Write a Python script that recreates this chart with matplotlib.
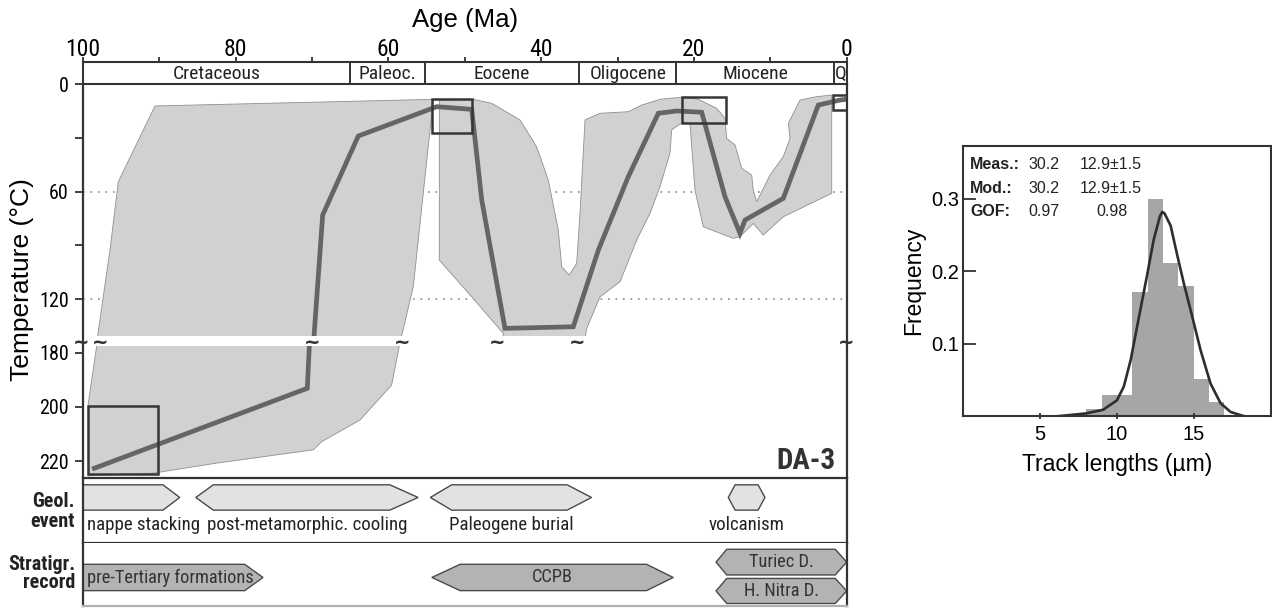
import matplotlib.pyplot as plt
import matplotlib.transforms as mtransforms
from matplotlib import font_manager
from matplotlib.patches import Polygon, Rectangle

REGULAR = ['Liberation Sans', 'DejaVu Sans']
plt.rcParams['font.family'] = REGULAR


def pick_narrow():
    # the figure uses a narrow sans for ticks and labels; take what is installed
    names = {f.name for f in font_manager.fontManager.ttflist}
    for cand in ['Liberation Sans Narrow', 'Arial Narrow', 'Roboto Condensed',
                 'DejaVu Sans Condensed', 'Open Sans Condensed', 'Noto Sans Condensed']:
        if cand in names:
            return cand, 'normal'
    for f in font_manager.fontManager.ttflist:
        if isinstance(f.stretch, str) and 'condensed' in f.stretch and 'Sans' in f.name \
                and 'Mono' not in f.name:
            return f.name, f.stretch
    return None, 'normal'


narrow_name, narrow_stretch = pick_narrow()
NARROW = [narrow_name] + REGULAR if narrow_name else REGULAR
SHRINK = 1.0 if narrow_name else 0.84


def ns(size):
    return size * SHRINK


# ---- data ----
period_names = ['Cretaceous', 'Paleoc.', 'Eocene', 'Oligocene', 'Miocene', 'Q']
period_bounds = [100, 65.0, 55.2, 35.0, 22.3, 1.6, 0]

# envelope 1 (Cretaceous - early Eocene), age (Ma) / temperature (C)
envA_age = [90.54, 54.11, 56.73, 58.25, 58.56, 59.56, 63.70, 68.72, 69.82, 82.46,
            90.76, 99.27, 99.27, 98.17, 98.04, 96.43, 95.34]
envA_temp = [12.1, 8.4, 113.1, 140.4, 177.5, 191.9, 204.8, 212.8, 215.8, 220.7,
             224.4, 225.4, 198.6, 177.5, 140.4, 92.6, 54.4]

# envelope 2 (Eocene - Miocene)
envB_age = [53.32, 48.87, 46.47, 42.76, 40.58, 39.06, 38.18, 37.75, 37.30, 36.31,
            35.34, 34.91, 34.25, 32.29, 28.59, 26.83, 24.44, 23.13, 21.16, 19.42,
            17.02, 15.93, 15.71, 14.62, 13.74, 12.43, 12.23, 11.78, 10.04, 8.30,
            7.42, 7.64, 6.11, 3.93, 1.96, 1.96, 8.30, 10.92, 12.23, 13.97,
            14.84, 16.58, 18.77, 19.86, 20.51, 21.39, 22.91, 23.13, 24.44, 25.75,
            27.49, 29.67, 32.29, 34.03, 34.25, 44.95, 44.95, 49.08, 53.32]
envB_temp = [8.8, 8.4, 10.6, 19.9, 34.9, 53.5, 72.1, 81.4, 101.9, 106.5,
             100.0, 72.1, 19.9, 16.2, 15.3, 11.6, 8.4, 7.8, 7.1, 8.4,
             13.4, 19.0, 30.2, 33.9, 46.9, 50.7, 59.1, 65.6, 50.7, 40.4,
             30.2, 21.8, 8.8, 6.9, 6.0, 60.9, 74.0, 84.2, 77.7, 85.1,
             86.0, 83.2, 79.6, 59.1, 21.8, 20.9, 25.5, 38.5, 57.2, 72.1,
             87.0, 110.3, 118.7, 136.3, 142.0, 142.0, 139.1, 118.7, 98.2]

# best-fit thermal path
path_age = [98.48, 70.60, 68.59, 63.93, 53.66, 49.08, 47.77, 44.73, 35.79, 32.51,
            28.59, 24.66, 22.25, 18.98, 15.93, 13.97, 13.31, 8.30, 3.72, 0.88, 0.3]
path_temp = [222.6, 193.1, 73.0, 28.9, 12.5, 14.0, 64.6, 136.3, 135.4, 92.6,
             51.6, 16.2, 14.9, 15.6, 62.8, 83.2, 75.8, 63.7, 11.6, 8.8, 8.5]

# constraint boxes: old age, young age, top temp, bottom temp
box_old = [99.3, 54.24, 21.6, 1.83]
box_young = [90.1, 49.08, 15.8, 0.0]
box_top = [199.5, 8.4, 7.3, 6.0]
box_bottom = [224.8, 27.4, 21.4, 14.4]

break_marks = [100.2, 97.7, 70.0, 58.2, 45.7, 35.3, 0.05]

event_labels = ['nappe stacking', 'post-metamorphic. cooling', 'Paleogene burial', 'volcanism']
event_tip_l = [100, 85.2, 54.5, 15.5]
event_sh_l = [100, 82.9, 51.7, 14.6]
event_sh_r = [89.5, 59.8, 36.6, 11.6]
event_tip_r = [87.3, 56.1, 33.4, 10.7]

strat_labels = ['pre-Tertiary formations', 'CCPB', 'Turiec D.', 'H. Nitra D.']
strat_tip_l = [100, 54.3, 17.1, 17.1]
strat_sh_l = [100, 50.6, 15.7, 15.7]
strat_sh_r = [78.8, 26.2, 1.5, 1.5]
strat_tip_r = [76.4, 22.7, 0.0, 0.0]
strat_row = [1, 1, 2, 0]

# track length histogram
bin_left = [8, 9, 10, 11, 12, 13, 14, 15, 16]
bin_freq = [0.01, 0.03, 0.03, 0.171, 0.30, 0.211, 0.18, 0.051, 0.02]
model_len = [6.1, 8.0, 9.1, 10.0, 10.45, 10.9, 11.4, 11.95, 12.4, 12.8, 12.95,
             13.1, 13.5, 13.9, 14.35, 14.9, 15.45, 16.1, 16.75, 17.4, 18.3]
model_freq = [0.0, 0.004, 0.009, 0.022, 0.041, 0.078, 0.133, 0.193, 0.244, 0.276, 0.282,
              0.280, 0.263, 0.225, 0.184, 0.138, 0.091, 0.045, 0.018, 0.006, 0.0]
stats_rows = [('Meas.:', '30.2', '12.9\u00b11.5'),
              ('Mod.:', '30.2', '12.9\u00b11.5'),
              ('GOF:', '0.97', '0.98')]

# ---- layout ----
W, H = 1272, 608
DARK = '#333333'
ENV_FILL = '#d0d1d3'
PATH_COL = '#656565'


def frame(x0, y0, x1, y1):
    return [x0 / W, 1 - y1 / H, (x1 - x0) / W, (y1 - y0) / H]


def hexagon(tl, sl, sr, tr, y0, y1):
    mid = (y0 + y1) / 2
    return [(tl, mid), (sl, y1), (sr, y1), (tr, mid), (sr, y0), (sl, y0)]


def narrow_ticks(labels):
    for lbl in labels:
        lbl.set_fontfamily(NARROW)
        lbl.set_fontstretch(narrow_stretch)


fig = plt.figure(figsize=(W / 100, H / 100), dpi=100)
X0, X1 = 82.7, 846.7

ax_per = fig.add_axes(frame(X0, 61.7, X1, 84.3))
ax_up = fig.add_axes(frame(X0, 84.3, X1, 335.7))
ax_lo = fig.add_axes(frame(X0, 346, X1, 478.3))
ax_fr = fig.add_axes(frame(X0, 84.3, X1, 478.3), zorder=5)
ax_ev = fig.add_axes(frame(X0, 478.3, X1, 543.3))
ax_st = fig.add_axes(frame(X0, 543.3, X1, 606))
ax_h = fig.add_axes(frame(963.3, 146, 1270.5, 416.3))

# period bar with the age axis on top
ax_per.set_xlim(100, 0)
ax_per.set_ylim(0, 1)
ax_per.xaxis.tick_top()
ax_per.xaxis.set_label_position('top')
ax_per.set_xticks([100, 80, 60, 40, 20, 0])
ax_per.set_xticks([90, 70, 50, 30, 10], minor=True)
ax_per.tick_params(axis='x', which='both', direction='out', length=3.8, width=1.3,
                   color=DARK, pad=-3.2, labelsize=ns(17))
narrow_ticks(ax_per.get_xticklabels())
ax_per.set_yticks([])
ax_per.set_xlabel('Age (Ma)', fontsize=18.5, labelpad=8)
for s in ax_per.spines.values():
    s.set_color(DARK)
    s.set_linewidth(1.5)
for b in period_bounds[1:-1]:
    ax_per.axvline(b, color=DARK, lw=1.4)
for i, name in enumerate(period_names):
    ax_per.text((period_bounds[i] + period_bounds[i + 1]) / 2, 0.45, name,
                ha='center', va='center', fontsize=ns(14), family=NARROW,
                stretch=narrow_stretch, color='#222222')

# temperature axes (broken)
for ax, lim in ((ax_up, (140.4, 0)), (ax_lo, (226.3, 177.5))):
    ax.set_xlim(100, 0)
    ax.set_ylim(*lim)
    ax.set_facecolor('none')
    for s in ax.spines.values():
        s.set_visible(False)
    ax.set_xticks([])
    ax.add_patch(Polygon(list(zip(envA_age, envA_temp)), closed=True,
                         facecolor=ENV_FILL, edgecolor='#8f8f8f', lw=0.6))
    ax.add_patch(Polygon(list(zip(envB_age, envB_temp)), closed=True,
                         facecolor=ENV_FILL, edgecolor='#8f8f8f', lw=0.6))
    ax.plot(path_age, path_temp, color=PATH_COL, lw=3.4, solid_joinstyle='miter')
    for o, yg, t, bt in zip(box_old, box_young, box_top, box_bottom):
        ax.add_patch(Rectangle((yg, t), o - yg, bt - t, fill=False,
                               edgecolor='#363636', lw=1.8, zorder=4))
    ax.tick_params(axis='y', which='both', direction='out', length=5.5, width=1.3,
                   color=DARK, pad=4.5, labelsize=ns(14.5))

ax_up.set_yticks([0, 60, 120])
ax_up.set_yticks([30, 90], minor=True)
ax_lo.set_yticks([180, 200, 220])
narrow_ticks(ax_up.get_yticklabels())
narrow_ticks(ax_lo.get_yticklabels())
for t in (60, 120):
    ax_up.axhline(t, color='#8a8a8a', lw=1.2, ls=(0, (1, 3.5)), zorder=0.5)

ax_fr.set_facecolor('none')
ax_fr.set_xlim(100, 0)
ax_fr.set_ylim(0, 1)
ax_fr.set_xticks([])
ax_fr.set_yticks([])
ax_fr.spines['top'].set_visible(False)
for k in ('left', 'right', 'bottom'):
    ax_fr.spines[k].set_color(DARK)
    ax_fr.spines[k].set_linewidth(1.6)
blend = mtransforms.blended_transform_factory(ax_fr.transData, ax_fr.transAxes)
for a in break_marks:
    ax_fr.text(a, 0.345, '~', transform=blend, ha='center', va='center',
               fontsize=14, fontweight='bold', family=['DejaVu Sans'], color=DARK,
               clip_on=False)
ax_fr.text(0.985, 0.045, 'DA-3', transform=ax_fr.transAxes, ha='right', va='center',
           fontsize=ns(21), fontweight='bold', family=NARROW, stretch=narrow_stretch,
           color=DARK)
fig.text(21.7 / W, 1 - 280 / H, 'Temperature (\u00b0C)', rotation=90, ha='center',
         va='center', fontsize=19)

# event and stratigraphy rows
for ax in (ax_ev, ax_st):
    ax.set_xlim(100, 0)
    ax.set_ylim(0, 1)
    ax.set_xticks([])
    ax.set_yticks([])
    for s in ax.spines.values():
        s.set_color(DARK)
        s.set_linewidth(1.6)
ax_ev.spines['top'].set_visible(False)
ax_st.spines['top'].set_visible(False)
ax_st.spines['bottom'].set_color('#b0b0b0')

for i, lab in enumerate(event_labels):
    ax_ev.add_patch(Polygon(hexagon(event_tip_l[i], event_sh_l[i], event_sh_r[i],
                                    event_tip_r[i], 0.51, 0.9),
                            closed=True, facecolor='#e2e2e4', edgecolor='#4a4a4a', lw=1.0))
    xt = event_tip_l[i] - 0.6 if i == 0 else (event_tip_l[i] + event_tip_r[i]) / 2
    ax_ev.text(xt, 0.28, lab, ha='left' if i == 0 else 'center', va='center',
               fontsize=ns(13.6), family=NARROW, stretch=narrow_stretch, color='#222222')

row_y = [(0.04, 0.44), (0.245, 0.665), (0.495, 0.905)]
for i, lab in enumerate(strat_labels):
    y0, y1 = row_y[strat_row[i]]
    ax_st.add_patch(Polygon(hexagon(strat_tip_l[i], strat_sh_l[i], strat_sh_r[i],
                                    strat_tip_r[i], y0, y1),
                            closed=True, facecolor='#b3b3b5', edgecolor='#4a4a4a', lw=1.0,
                            clip_on=False))
    xt = strat_tip_l[i] - 0.6 if i == 0 else (strat_tip_l[i] + strat_tip_r[i]) / 2
    ax_st.text(xt, (y0 + y1) / 2, lab, ha='left' if i == 0 else 'center', va='center',
               fontsize=ns(13.2), family=NARROW, stretch=narrow_stretch, color='#333333')

for txt, yp in (('Geol.', 501.7), ('event', 521.7), ('Stratigr.', 564.3), ('record', 582.7)):
    fig.text(75 / W, 1 - yp / H, txt, ha='right', va='center', fontsize=ns(14.5),
             fontweight='bold', family=NARROW, stretch=narrow_stretch, color='#222222')

# track length histogram
ax_h.bar(bin_left, bin_freq, width=1, align='edge', color='#a6a6a6', lw=0)
ax_h.plot(model_len, model_freq, color='#2e2e2e', lw=1.9)
ax_h.set_xlim(0, 20)
ax_h.set_ylim(0, 0.373)
ax_h.set_xticks([5, 10, 15])
ax_h.set_yticks([0.1, 0.2, 0.3])
ax_h.tick_params(axis='y', direction='in', length=9, width=1.3, color=DARK,
                 labelsize=14.5, pad=3)
ax_h.tick_params(axis='x', direction='inout', length=5, width=1.3, color=DARK,
                 labelsize=14.5, pad=4)
ax_h.set_xlabel('Track lengths (\u00b5m)', fontsize=16.5, labelpad=6)
ax_h.set_ylabel('Frequency', fontsize=16.5, labelpad=4)
for s in ax_h.spines.values():
    s.set_color(DARK)
    s.set_linewidth(1.5)
for r, (name, v1, v2) in enumerate(stats_rows):
    yy = [0.930, 0.843, 0.757][r]
    ax_h.text(0.022, yy, name, transform=ax_h.transAxes, ha='left', va='center',
              fontsize=11.5, fontweight='bold', color='#222222')
    ax_h.text(0.211, yy, v1, transform=ax_h.transAxes, ha='left', va='center',
              fontsize=11.5, color='#222222')
    ax_h.text(0.378 if r < 2 else 0.433, yy, v2, transform=ax_h.transAxes, ha='left',
              va='center', fontsize=11.5, color='#222222')

fig.savefig('out.png', dpi=100)
